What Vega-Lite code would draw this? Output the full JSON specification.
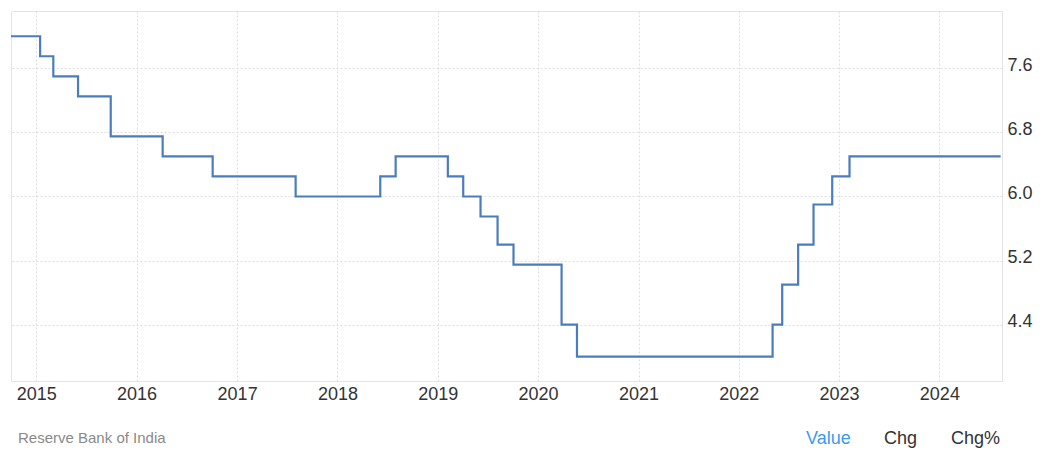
{
  "$schema": "https://vega.github.io/schema/vega-lite/v6.json",
  "width": 991,
  "height": 370,
  "padding": {"left": 6, "top": 11, "right": 0, "bottom": 0},
  "background": "#ffffff",
  "config": {
    "font": "Liberation Sans",
    "view": {"stroke": "#e4e4e4", "strokeWidth": 1},
    "axis": {"gridColor": "#dedede", "gridDash": [2, 2], "gridWidth": 1, "ticks": false, "domain": false, "labelFont": "Liberation Sans", "labelFontSize": 18, "labelColor": "#333333", "title": null}
  },
  "title": {"text": "Reserve Bank of India", "orient": "bottom", "anchor": "start", "frame": "group", "fontSize": 15, "fontWeight": "normal", "color": "#8a8a8a", "font": "Liberation Sans", "dx": 7, "offset": -17},
  "layer": [
    {
      "data": {"values": [
        {"date": "2014-10-01", "rate": 8.00},
        {"date": "2015-01-15", "rate": 7.75},
        {"date": "2015-03-04", "rate": 7.50},
        {"date": "2015-06-02", "rate": 7.25},
        {"date": "2015-09-29", "rate": 6.75},
        {"date": "2016-04-05", "rate": 6.50},
        {"date": "2016-10-04", "rate": 6.25},
        {"date": "2017-08-02", "rate": 6.00},
        {"date": "2018-06-06", "rate": 6.25},
        {"date": "2018-08-01", "rate": 6.50},
        {"date": "2019-02-07", "rate": 6.25},
        {"date": "2019-04-04", "rate": 6.00},
        {"date": "2019-06-06", "rate": 5.75},
        {"date": "2019-08-07", "rate": 5.40},
        {"date": "2019-10-04", "rate": 5.15},
        {"date": "2020-03-27", "rate": 4.40},
        {"date": "2020-05-22", "rate": 4.00},
        {"date": "2022-05-04", "rate": 4.40},
        {"date": "2022-06-08", "rate": 4.90},
        {"date": "2022-08-05", "rate": 5.40},
        {"date": "2022-09-30", "rate": 5.90},
        {"date": "2022-12-07", "rate": 6.25},
        {"date": "2023-02-08", "rate": 6.50},
        {"date": "2024-08-11", "rate": 6.50}
      ]},
      "mark": {"type": "line", "interpolate": "step-after", "color": "#4a7dbf", "strokeWidth": 2.2},
      "encoding": {
        "x": {"field": "date", "type": "temporal",
              "scale": {"domain": ["2014-10-01", "2024-08-16"], "nice": false},
              "axis": {"orient": "bottom", "format": "%Y", "tickCount": {"interval": "year", "step": 1}, "labelFlush": false, "labelOverlap": false, "labelPadding": 4, "grid": true}},
        "y": {"field": "rate", "type": "quantitative",
              "scale": {"domain": [3.697, 8.315], "nice": false, "zero": false},
              "axis": {"orient": "right", "values": [4.4, 5.2, 6.0, 6.8, 7.6], "format": ".1f", "labelPadding": 5, "labelOffset": -3, "grid": true}}
      }
    },
    {
      "data": {"values": [{"tab": "Value"}, {"tab": "Chg"}, {"tab": "Chg%"}]},
      "mark": {"type": "point", "opacity": 0, "size": 0, "strokeWidth": 0, "filled": true},
      "encoding": {
        "shape": {"field": "tab", "type": "nominal", "scale": {"domain": ["Value", "Chg", "Chg%"]},
          "legend": {"orient": "none", "legendX": 777, "legendY": 419, "direction": "horizontal", "title": null,
            "symbolSize": 0, "symbolOpacity": 0, "symbolStrokeWidth": 0, "labelOffset": 0, "columnPadding": 15,
            "labelFont": "Liberation Sans", "labelFontSize": 18, "labelLimit": 200,
            "labelColor": {"expr": "datum.label === 'Value' ? '#3d9af2' : '#333333'"}}}
      }
    }
  ]
}
